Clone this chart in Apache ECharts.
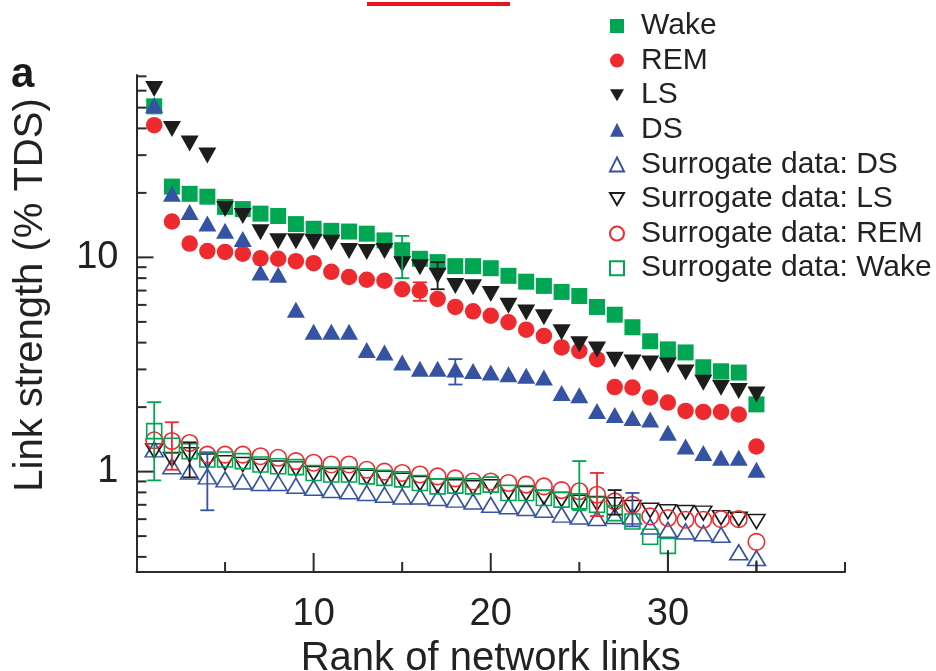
<!DOCTYPE html>
<html>
<head>
<meta charset="utf-8">
<script src="https://cdn.jsdelivr.net/npm/echarts@6/dist/echarts.min.js"></script>
<style>
  html, body { margin: 0; padding: 0; background: #ffffff; }
  #chart { width: 936px; height: 671px; }
</style>
</head>
<body>
<div id="chart"></div>
<script>
// Rank of each network link (x)
const ranks = [1, 2, 3, 4, 5, 6, 7, 8, 9, 10, 11, 12, 13, 14, 15, 16, 17, 18, 19, 20,
               21, 22, 23, 24, 25, 26, 27, 28, 29, 30, 31, 32, 33, 34, 35];

// Link strength (% TDS) per sleep stage
const wake = [50.7, 21.4, 19.8, 19.2, 17.2, 16.8, 16.0, 15.6, 14.3, 13.6, 13.3, 13.2, 12.9, 12.0, 10.8,
              9.85, 9.5, 9.1, 9.1, 8.9, 8.2, 7.7, 7.36, 6.9, 6.6, 5.87, 5.4, 4.72, 4.06, 3.72,
              3.6, 3.07, 2.94, 2.9, 2.06];
const rem = [41.4, 14.7, 11.6, 10.7, 10.6, 10.4, 9.9, 9.85, 9.6, 9.4, 8.56, 8.1, 7.86, 7.78, 7.1,
             7.0, 6.4, 5.87, 5.6, 5.34, 4.98, 4.6, 4.3, 3.8, 3.66, 3.35, 2.48, 2.47, 2.22, 2.1,
             1.92, 1.9, 1.9, 1.85, 1.31];
const ls = [61, 39.7, 34.0, 29.9, 16.8, 15.6, 13.1, 11.9, 11.9, 11.8, 11.7, 10.7, 10.6, 10.7, 9.3,
            9.0, 8.2, 7.36, 7.25, 6.75, 5.95, 5.53, 5.25, 4.47, 3.93, 3.72, 3.33, 3.23, 3.2, 3.14,
            2.9, 2.6, 2.46, 2.38, 2.29];
const ds = [51.4, 19.8, 16.3, 14.4, 13.3, 12.2, 8.5, 8.3, 5.7, 4.5, 4.5, 4.5, 3.7, 3.6, 3.23,
            3.02, 3.02, 3.0, 2.95, 2.9, 2.85, 2.8, 2.75, 2.33, 2.27, 1.92, 1.84, 1.78, 1.75, 1.52,
            1.31, 1.22, 1.16, 1.16, 1.02];

// Surrogate data
const sDs = [1.27, 1.06, 1.0, 0.95, 0.92, 0.90, 0.885, 0.885, 0.86, 0.84, 0.82, 0.81, 0.795, 0.78, 0.766,
             0.766, 0.753, 0.74, 0.726, 0.70, 0.69, 0.676, 0.664, 0.63, 0.618, 0.607, 0.62, 0.618, 0.555, 0.535,
             0.526, 0.516, 0.507, 0.42, 0.395];
const sLs = [1.25, 1.14, 1.2, 1.12, 1.1, 1.08, 1.06, 1.04, 1.03, 0.98, 0.96, 0.96, 0.94, 0.93, 0.91,
             0.88, 0.86, 0.85, 0.84, 0.85, 0.80, 0.79, 0.76, 0.74, 0.72, 0.71, 0.70, 0.68, 0.66, 0.65,
             0.645, 0.64, 0.61, 0.6, 0.585];
const sRem = [1.4, 1.39, 1.36, 1.2, 1.2, 1.2, 1.18, 1.16, 1.12, 1.1, 1.08, 1.08, 1.02, 1.0, 0.986,
              0.97, 0.95, 0.93, 0.90, 0.90, 0.885, 0.87, 0.853, 0.82, 0.81, 0.78, 0.726, 0.70, 0.618, 0.607,
              0.596, 0.596, 0.6, 0.6, 0.47];
const sWake = [1.545, 1.32, 1.245, 1.14, 1.14, 1.12, 1.08, 1.06, 1.05, 0.986, 0.97, 0.97, 0.95, 0.935, 0.92,
               0.885, 0.853, 0.86, 0.853, 0.87, 0.795, 0.795, 0.753, 0.74, 0.726, 0.70, 0.64, 0.585, 0.497, 0.45];

// Error bars: [rank, low, high]
const errWake = [[15, 8.0, 12.6]];
const errRem = [[16, 6.27, 7.65]];
const errLs = [[17, 7.1, 9.5]];
const errDs = [[18, 2.55, 3.35]];
const errSWake = [[1, 0.91, 2.11], [25, 0.66, 1.12]];
const errSRem = [[2, 1.02, 1.70], [26, 0.62, 0.986]];
const errSLs = [[3, 0.94, 1.37], [27, 0.63, 0.82]];
const errSDs = [[4, 0.66, 1.22], [28, 0.555, 0.795]];
// Lower whiskers running down to the axis: [rank, low, high]
const stemSLs = [[30, 0.34, 0.43], [35, 0.34, 0.385]];

// Axis ranges and tick labels
const X_MIN = 0, X_MAX = 40;
const Y_MIN = 0.34, Y_MAX = 71;
const xLabelValues = [10, 20, 30];
const yLabelValues = [1, 10];
const xMajorTicks = [10, 20, 30];
const xMinorTicks = [5, 15, 25, 35, 40];
const yMajorTicks = [1, 10];
const yMinorTicks = [0.4, 0.5, 0.6, 0.7, 0.8, 0.9, 2, 3, 4, 5, 6, 7, 8, 9, 20, 30, 40, 50, 60, 70];

const GREEN = '#00a651', RED = '#ee2a2e', BLACK = '#1d1d1b', BLUE = '#3552a3';
const FONT = '"Liberation Sans", Arial, Helvetica, sans-serif';
const AXIS_COLOR = '#2b2b2b';
const DOWN_TRIANGLE = 'path://M0,0L10,0L5,8.66Z';

const pairs = vals => vals.map((v, i) => [ranks[i], v]);

function filled(name, data, color, symbol, size) {
  return {
    name, type: 'scatter', data: pairs(data), symbol, symbolSize: size,
    itemStyle: { color: color, opacity: 1 }, z: 4
  };
}
function open(name, data, color, symbol, size) {
  return {
    name, type: 'scatter', data: pairs(data), symbol, symbolSize: size,
    itemStyle: { color: 'rgba(255,255,255,0)', borderColor: color, borderWidth: 1.6, opacity: 1 }, z: 3
  };
}
function errorBars(data, color, cap) {
  return {
    type: 'custom', silent: true, z: 5, data: data,
    renderItem: function (params, api) {
      const x = api.value(0);
      const lo = api.coord([x, api.value(1)]);
      const hi = api.coord([x, api.value(2)]);
      const half = 7;
      const st = { stroke: color, lineWidth: 1.8 };
      const children = [{ type: 'line', shape: { x1: lo[0], y1: lo[1], x2: hi[0], y2: hi[1] }, style: st }];
      if (cap) {
        children.push({ type: 'line', shape: { x1: hi[0] - half, y1: hi[1], x2: hi[0] + half, y2: hi[1] }, style: st });
        children.push({ type: 'line', shape: { x1: lo[0] - half, y1: lo[1], x2: lo[0] + half, y2: lo[1] }, style: st });
      }
      return { type: 'group', children };
    }
  };
}
// Inward tick marks drawn through the axis scales
function yTicks(values, len) {
  return {
    type: 'custom', silent: true, z: 6, data: values.map(v => [X_MIN, v]),
    renderItem: function (params, api) {
      const p = api.coord([X_MIN, api.value(1)]);
      return { type: 'line', shape: { x1: p[0], y1: p[1], x2: p[0] + len, y2: p[1] },
               style: { stroke: AXIS_COLOR, lineWidth: 2 } };
    }
  };
}
function xTicks(values, len) {
  return {
    type: 'custom', silent: true, z: 6, data: values.map(v => [v, Y_MIN]),
    renderItem: function (params, api) {
      const p = api.coord([api.value(0), Y_MIN]);
      return { type: 'line', shape: { x1: p[0], y1: p[1], x2: p[0], y2: p[1] - len },
               style: { stroke: AXIS_COLOR, lineWidth: 2 } };
    }
  };
}
const isIn = (v, list) => list.some(t => Math.abs(Math.log10(v) - Math.log10(t)) < 1e-6);

const chart = echarts.init(document.getElementById('chart'), null, { renderer: 'canvas' });
chart.setOption({
  animation: false,
  backgroundColor: '#ffffff',
  textStyle: { fontFamily: FONT },
  grid: { left: 136.5, right: 91, top: 75, bottom: 99, containLabel: false, outerBoundsMode: 'none' },
  legend: {
    orient: 'vertical', left: 604, top: 6, itemWidth: 14, itemHeight: 14, itemGap: 4.6,
    textStyle: { fontSize: 30, lineHeight: 30, color: '#222222', fontFamily: FONT, padding: [0, 0, 0, 12] },
    selectedMode: false,
    data: ['Wake', 'REM', 'LS', 'DS', 'Surrogate data: DS', 'Surrogate data: LS',
           'Surrogate data: REM', 'Surrogate data: Wake']
  },
  xAxis: {
    type: 'value', min: X_MIN, max: X_MAX, interval: 5,
    name: 'Rank of network links', nameLocation: 'middle', nameGap: 64,
    nameTextStyle: { fontSize: 40, color: '#222222', fontFamily: FONT },
    axisLine: { show: true, lineStyle: { color: AXIS_COLOR, width: 2 } },
    axisTick: { show: false }, splitLine: { show: false },
    axisLabel: {
      fontSize: 38, color: '#222222', margin: 24, fontFamily: FONT,
      formatter: v => (xLabelValues.indexOf(v) >= 0 ? String(v) : '')
    }
  },
  yAxis: {
    type: 'log', logBase: 10, min: Y_MIN, max: Y_MAX,
    axisLine: { show: true, lineStyle: { color: AXIS_COLOR, width: 2 } },
    axisTick: { show: false }, splitLine: { show: false }, minorTick: { show: false },
    axisLabel: {
      fontSize: 38, color: '#222222', margin: 18, fontFamily: FONT,
      formatter: v => (isIn(v, yLabelValues) ? String(Math.round(v)) : '')
    }
  },
  graphic: [
    { type: 'text', left: 11, top: 54, style: { text: 'a', font: 'bold 42px ' + FONT, fill: '#1a1a1a' } },
    { type: 'text', x: 31, y: 295, rotation: Math.PI / 2,
      style: { text: 'Link strength (% TDS)', font: '40px ' + FONT, fill: '#222222',
               align: 'center', verticalAlign: 'middle' } },
    { type: 'rect', shape: { x: 367, y: 2, width: 143, height: 4 }, style: { fill: '#e8141b' } }
  ],
  series: [
    open('Surrogate data: DS', sDs, BLUE, 'triangle', [18, 15]),
    open('Surrogate data: LS', sLs, BLACK, DOWN_TRIANGLE, [17, 14]),
    open('Surrogate data: REM', sRem, RED, 'circle', 16.5),
    open('Surrogate data: Wake', sWake, GREEN, 'rect', 15),
    filled('Wake', wake, GREEN, 'rect', 16),
    filled('REM', rem, RED, 'circle', 16.5),
    filled('LS', ls, BLACK, DOWN_TRIANGLE, [18, 16]),
    filled('DS', ds, BLUE, 'triangle', [18, 16]),
    errorBars(errWake, GREEN, true),
    errorBars(errRem, RED, true),
    errorBars(errLs, BLACK, true),
    errorBars(errDs, BLUE, true),
    errorBars(errSWake, GREEN, true),
    errorBars(errSRem, RED, true),
    errorBars(errSLs, BLACK, true),
    errorBars(errSDs, BLUE, true),
    errorBars(stemSLs, BLACK, false),
    yTicks(yMajorTicks, 17),
    yTicks(yMinorTicks, 10),
    xTicks(xMajorTicks, 19),
    xTicks(xMinorTicks, 10)
  ]
});
</script>
</body>
</html>
